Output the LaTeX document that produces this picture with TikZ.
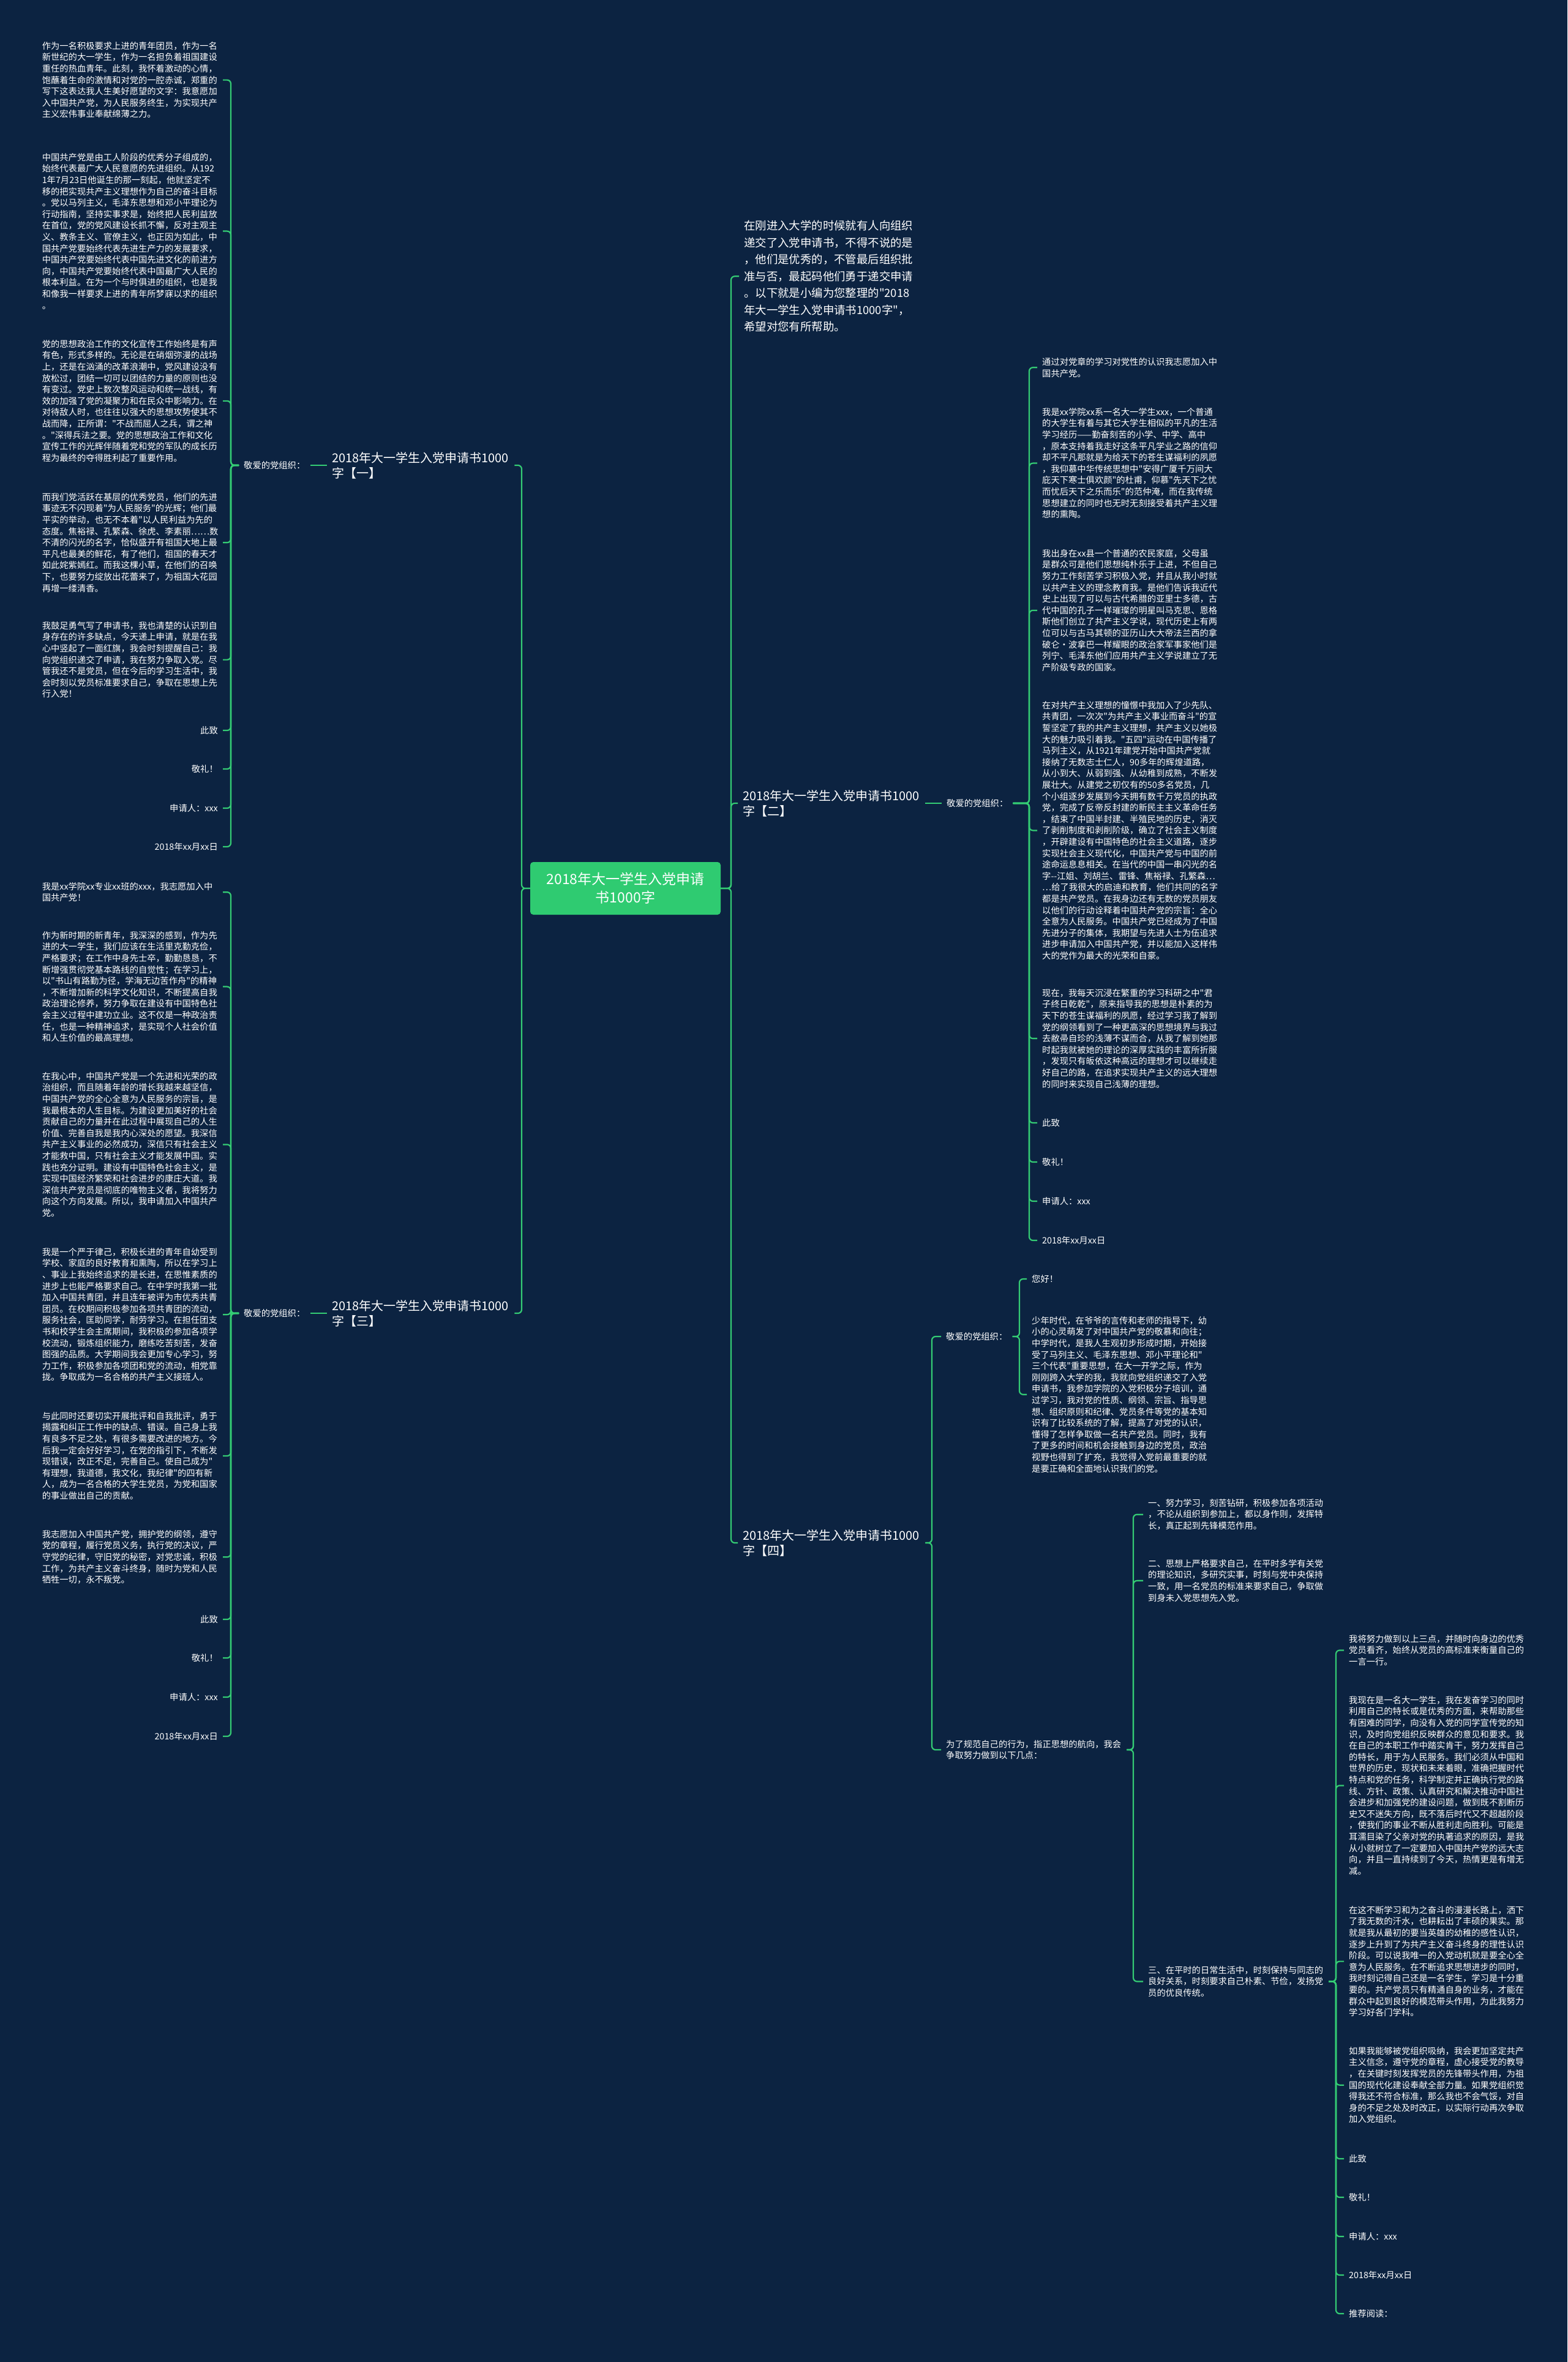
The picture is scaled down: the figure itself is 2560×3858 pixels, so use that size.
\documentclass[tikz,border=0pt]{standalone}
\usepackage{fontspec}
\newfontfamily\cjk{Noto Sans CJK SC}
\definecolor{bgc}{HTML}{0C2341}
\definecolor{lineg}{HTML}{34CC74}
\definecolor{cfill}{HTML}{2FCB71}
\tikzset{
  nbase/.style={text=white, inner xsep=8pt, inner ysep=2pt},
  leaf/.style={nbase, font=\cjk\fontsize{14.3}{18.6}\selectfont, align=left, text width=287pt},
  leafL/.style={leaf, anchor=north east},
  leafR/.style={leaf, anchor=north west},
  shortL/.style={nbase, font=\cjk\fontsize{14.3}{18.6}\selectfont, anchor=east},
  shortR/.style={nbase, font=\cjk\fontsize{14.3}{18.6}\selectfont, anchor=west},
  brlabel/.style={nbase, font=\cjk\fontsize{20}{25}\selectfont, align=left, text width=290pt, anchor=west},
  conn/.style={draw=lineg, line width=2.2pt, rounded corners=6pt},
}
\begin{document}
\begin{tikzpicture}[x=1pt,y=-1pt]
\fill[bgc] (0,0) rectangle (2560,3858);
\useasboundingbox (0,0) rectangle (2560,3858);

% buses
\coordinate (busCL) at (852,0);
\coordinate (busCR) at (1194,0);
\coordinate (bus1) at (377,0);
\coordinate (bus2) at (1681,0);
\coordinate (bus4) at (1522,0);
\coordinate (bus4b) at (1665,0);
\coordinate (busW) at (1851,0);
\coordinate (busT) at (2182,0);

% center
\node[fill=cfill, rounded corners=5pt, text=white, font=\cjk\fontsize{23}{30}\selectfont, align=center, minimum width=311pt, minimum height=86pt, inner sep=4pt] (c) at (1021.5,1451) {2018年大一学生入党申请\\书1000字};

% intro
\node[nbase, font=\cjk\fontsize{18.4}{27.5}\selectfont, align=left, text width=280pt, anchor=north west] (intro) at (1207,358) {在刚进入大学的时候就有人向组织\\递交了入党申请书，不得不说的是\\，他们是优秀的，不管最后组织批\\准与否，最起码他们勇于递交申请\\。以下就是小编为您整理的"2018\\年大一学生入党申请书1000字"，\\希望对您有所帮助。};

% branch labels
\node[brlabel] (l1) at (534,760) {2018年大一学生入党申请书1000\\字【一】};
\node[brlabel] (l3) at (534,2145) {2018年大一学生入党申请书1000\\字【三】};
\node[brlabel] (l2) at (1205,1312) {2018年大一学生入党申请书1000\\字【二】};
\node[brlabel] (l4) at (1205,2520) {2018年大一学生入党申请书1000\\字【四】};

% dear party nodes
\node[shortR] (e1) at (390,760) {敬爱的党组织：};
\node[shortR] (e3) at (390,2145) {敬爱的党组织：};
\node[shortR] (e2) at (1538,1312) {敬爱的党组织：};
\node[shortR] (e4) at (1537,2183) {敬爱的党组织：};

% ---------- branch 1 leaves ----------
\node[leafL] (p1) at (364,66) {作为一名积极要求上进的青年团员，作为一名\\新世纪的大一学生，作为一名担负着祖国建设\\重任的热血青年。此刻，我怀着激动的心情，\\饱蘸着生命的激情和对党的一腔赤诚，郑重的\\写下这表达我人生美好愿望的文字：我意愿加\\入中国共产党，为人民服务终生，为实现共产\\主义宏伟事业奉献绵薄之力。};
\node[leafL] (p2) at (364,248) {中国共产党是由工人阶段的优秀分子组成的，\\始终代表最广大人民意愿的先进组织。从192\\1年7月23日他诞生的那一刻起，他就坚定不\\移的把实现共产主义理想作为自己的奋斗目标\\。党以马列主义，毛泽东思想和邓小平理论为\\行动指南，坚持实事求是，始终把人民利益放\\在首位，党的党风建设长抓不懈，反对主观主\\义、教条主义、官僚主义，也正因为如此，中\\国共产党要始终代表先进生产力的发展要求，\\中国共产党要始终代表中国先进文化的前进方\\向，中国共产党要始终代表中国最广大人民的\\根本利益。在为一个与时俱进的组织，也是我\\和像我一样要求上进的青年所梦寐以求的组织\\。};
\node[leafL] (p3) at (364,553) {党的思想政治工作的文化宣传工作始终是有声\\有色，形式多样的。无论是在硝烟弥漫的战场\\上，还是在汹涌的改革浪潮中，党风建设没有\\放松过，团结一切可以团结的力量的原则也没\\有变过。党史上数次整风运动和统一战线，有\\效的加强了党的凝聚力和在民众中影响力。在\\对待敌人时，也往往以强大的思想攻势使其不\\战而降，正所谓："不战而屈人之兵，谓之神\\。"深得兵法之要。党的思想政治工作和文化\\宣传工作的光辉伴随着党和党的军队的成长历\\程为最终的夺得胜利起了重要作用。};
\node[leafL] (p4) at (364,803) {而我们党活跃在基层的优秀党员，他们的先进\\事迹无不闪现着"为人民服务"的光辉；他们最\\平实的举动，也无不本着"以人民利益为先的\\态度。焦裕禄、孔繁森、徐虎、李素丽……数\\不清的闪光的名字，恰似盛开有祖国大地上最\\平凡也最美的鲜花，有了他们，祖国的春天才\\如此姹紫嫣红。而我这棵小草，在他们的召唤\\下，也要努力绽放出花蕾来了，为祖国大花园\\再增一缕清香。};
\node[leafL] (p5) at (364,1013) {我鼓足勇气写了申请书，我也清楚的认识到自\\身存在的许多缺点，今天递上申请，就是在我\\心中竖起了一面红旗，我会时刻提醒自己：我\\向党组织递交了申请，我在努力争取入党。尽\\管我还不是党员，但在今后的学习生活中，我\\会时刻以党员标准要求自己，争取在思想上先\\行入党！};
\node[shortL] (p6) at (364,1193) {此致};
\node[shortL] (p7) at (364,1256) {敬礼！};
\node[shortL] (p8) at (364,1320) {申请人：xxx};
\node[shortL] (p9) at (364,1383) {2018年xx月xx日};

% ---------- branch 3 leaves ----------
\node[leafL] (q1) at (364,1439) {我是xx学院xx专业xx班的xxx，我志愿加入中\\国共产党！};
\node[leafL] (q2) at (364,1519) {作为新时期的新青年，我深深的感到，作为先\\进的大一学生，我们应该在生活里克勤克俭，\\严格要求；在工作中身先士卒，勤勤恳恳，不\\断增强贯彻党基本路线的自觉性；在学习上，\\以"书山有路勤为径，学海无边苦作舟"的精神\\，不断增加新的科学文化知识，不断提高自我\\政治理论修养，努力争取在建设有中国特色社\\会主义过程中建功立业。这不仅是一种政治责\\任，也是一种精神追求，是实现个人社会价值\\和人生价值的最高理想。};
\node[leafL] (q3) at (364,1749) {在我心中，中国共产党是一个先进和光荣的政\\治组织，而且随着年龄的增长我越来越坚信，\\中国共产党的全心全意为人民服务的宗旨，是\\我最根本的人生目标。为建设更加美好的社会\\贡献自己的力量并在此过程中展现自己的人生\\价值、完善自我是我内心深处的愿望。我深信\\共产主义事业的必然成功，深信只有社会主义\\才能救中国，只有社会主义才能发展中国。实\\践也充分证明。建设有中国特色社会主义，是\\实现中国经济繁荣和社会进步的康庄大道。我\\深信共产党员是彻底的唯物主义者，我将努力\\向这个方向发展。所以，我申请加入中国共产\\党。};
\node[leafL] (q4) at (364,2036) {我是一个严于律己，积极长进的青年自幼受到\\学校、家庭的良好教育和熏陶，所以在学习上\\、事业上我始终追求的是长进，在思惟素质的\\进步上也能严格要求自己。在中学时我第一批\\加入中国共青团，并且连年被评为市优秀共青\\团员。在校期间积极参加各项共青团的流动，\\服务社会，匡助同学，耐劳学习。在担任团支\\书和校学生会主席期间，我积极的参加各项学\\校流动，锻炼组织能力，磨练吃苦刻苦，发奋\\图强的品质。大学期间我会更加专心学习，努\\力工作，积极参加各项团和党的流动，相党靠\\拢。争取成为一名合格的共产主义接班人。};
\node[leafL] (q5) at (364,2304) {与此同时还要切实开展批评和自我批评，勇于\\揭露和纠正工作中的缺点、错误。自己身上我\\有良多不足之处，有很多需要改进的地方。今\\后我一定会好好学习，在党的指引下，不断发\\现错误，改正不足，完善自己。使自己成为"\\有理想，我道德，我文化，我纪律"的四有新\\人，成为一名合格的大学生党员，为党和国家\\的事业做出自己的贡献。};
\node[leafL] (q6) at (364,2497) {我志愿加入中国共产党，拥护党的纲领，遵守\\党的章程，履行党员义务，执行党的决议，严\\守党的纪律，守旧党的秘密，对党忠诚，积极\\工作，为共产主义奋斗终身，随时为党和人民\\牺牲一切，永不叛党。};
\node[shortL] (q7) at (364,2645) {此致};
\node[shortL] (q8) at (364,2708) {敬礼！};
\node[shortL] (q9) at (364,2772) {申请人：xxx};
\node[shortL] (q10) at (364,2836) {2018年xx月xx日};

% ---------- branch 2 leaves ----------
\node[leafR] (r1) at (1694,582) {通过对党章的学习对党性的认识我志愿加入中\\国共产党。};
\node[leafR] (r2) at (1694,664) {我是xx学院xx系一名大一学生xxx，一个普通\\的大学生有着与其它大学生相似的平凡的生活\\学习经历——勤奋刻苦的小学、中学、高中\\，原本支持着我走好这条平凡学业之路的信仰\\却不平凡那就是为给天下的苍生谋福利的夙愿\\，我仰慕中华传统思想中"安得广厦千万间大\\庇天下寒士俱欢颜"的杜甫，仰慕"先天下之忧\\而忧后天下之乐而乐"的范仲淹，而在我传统\\思想建立的同时也无时无刻接受着共产主义理\\想的熏陶。};
\node[leafR] (r3) at (1694,895) {我出身在xx县一个普通的农民家庭，父母虽\\是群众可是他们思想纯朴乐于上进，不但自己\\努力工作刻苦学习积极入党，并且从我小时就\\以共产主义的理念教育我。是他们告诉我近代\\史上出现了可以与古代希腊的亚里士多德，古\\代中国的孔子一样璀璨的明星叫马克思、恩格\\斯他们创立了共产主义学说，现代历史上有两\\位可以与古马其顿的亚历山大大帝法兰西的拿\\破仑·波拿巴一样耀眼的政治家军事家他们是\\列宁、毛泽东他们应用共产主义学说建立了无\\产阶级专政的国家。};
\node[leafR] (r4) at (1694,1143) {在对共产主义理想的憧憬中我加入了少先队、\\共青团，一次次"为共产主义事业而奋斗"的宣\\誓坚定了我的共产主义理想，共产主义以她极\\大的魅力吸引着我。"五四"运动在中国传播了\\马列主义，从1921年建党开始中国共产党就\\接纳了无数志士仁人，90多年的辉煌道路，\\从小到大、从弱到强、从幼稚到成熟，不断发\\展壮大。从建党之初仅有的50多名党员，几\\个小组逐步发展到今天拥有数千万党员的执政\\党，完成了反帝反封建的新民主主义革命任务\\，结束了中国半封建、半殖民地的历史，消灭\\了剥削制度和剥削阶级，确立了社会主义制度\\，开辟建设有中国特色的社会主义道路，逐步\\实现社会主义现代化，中国共产党与中国的前\\途命运息息相关。在当代的中国一串闪光的名\\字-{}-江姐、刘胡兰、雷锋、焦裕禄、孔繁森…\\…给了我很大的启迪和教育，他们共同的名字\\都是共产党员。在我身边还有无数的党员朋友\\以他们的行动诠释着中国共产党的宗旨：全心\\全意为人民服务。中国共产党已经成为了中国\\先进分子的集体，我期望与先进人士为伍追求\\进步申请加入中国共产党，并以能加入这样伟\\大的党作为最大的光荣和自豪。};
\node[leafR] (r5) at (1694,1613) {现在，我每天沉浸在繁重的学习科研之中"君\\子终日乾乾"，原来指导我的思想是朴素的为\\天下的苍生谋福利的夙愿，经过学习我了解到\\党的纲领看到了一种更高深的思想境界与我过\\去敝帚自珍的浅薄不谋而合，从我了解到她那\\时起我就被她的理论的深厚实践的丰富所折服\\，发现只有皈依这种高远的理想才可以继续走\\好自己的路，在追求实现共产主义的远大理想\\的同时来实现自己浅薄的理想。};
\node[shortR] (r6) at (1694,1834) {此致};
\node[shortR] (r7) at (1694,1898) {敬礼！};
\node[shortR] (r8) at (1694,1962) {申请人：xxx};
\node[shortR] (r9) at (1694,2026) {2018年xx月xx日};

% ---------- branch 4 ----------
\node[shortR] (hi) at (1677,2089) {您好！};
\node[leafR] (s2) at (1677,2148) {少年时代，在爷爷的言传和老师的指导下，幼\\小的心灵萌发了对中国共产党的敬慕和向往；\\中学时代，是我人生观初步形成时期，开始接\\受了马列主义、毛泽东思想、邓小平理论和"\\三个代表"重要思想，在大一开学之际，作为\\刚刚跨入大学的我，我就向党组织递交了入党\\申请书，我参加学院的入党积极分子培训，通\\过学习，我对党的性质、纲领、宗旨、指导思\\想、组织原则和纪律、党员条件等党的基本知\\识有了比较系统的了解，提高了对党的认识，\\懂得了怎样争取做一名共产党员。同时，我有\\了更多的时间和机会接触到身边的党员，政治\\视野也得到了扩充，我觉得入党前最重要的就\\是要正确和全面地认识我们的党。};
\node[leaf, anchor=west] (w) at (1537,2858) {为了规范自己的行为，指正思想的航向，我会\\争取努力做到以下几点：};
\node[leafR] (i1) at (1867,2446) {一、努力学习，刻苦钻研，积极参加各项活动\\，不论从组织到参加上，都以身作则，发挥特\\长，真正起到先锋模范作用。};
\node[leafR] (i2) at (1867,2545) {二、思想上严格要求自己，在平时多学有关党\\的理论知识，多研究实事，时刻与党中央保持\\一致，用一名党员的标准来要求自己，争取做\\到身未入党思想先入党。};
\node[leafR] (i3) at (1867,3209) {三、在平时的日常生活中，时刻保持与同志的\\良好关系，时刻要求自己朴素、节俭，发扬党\\员的优良传统。};
\node[leafR] (t1) at (2195,2668) {我将努力做到以上三点，并随时向身边的优秀\\党员看齐，始终从党员的高标准来衡量自己的\\一言一行。};
\node[leafR] (t2) at (2195,2768) {我现在是一名大一学生，我在发奋学习的同时\\利用自己的特长或是优秀的方面，来帮助那些\\有困难的同学，向没有入党的同学宣传党的知\\识，及时向党组织反映群众的意见和要求。我\\在自己的本职工作中踏实肯干，努力发挥自己\\的特长，用于为人民服务。我们必须从中国和\\世界的历史，现状和未来着眼，准确把握时代\\特点和党的任务，科学制定并正确执行党的路\\线、方针、政策、认真研究和解决推动中国社\\会进步和加强党的建设问题，做到既不割断历\\史又不迷失方向，既不落后时代又不超越阶段\\，使我们的事业不断从胜利走向胜利。可能是\\耳濡目染了父亲对党的执著追求的原因，是我\\从小就树立了一定要加入中国共产党的远大志\\向，并且一直持续到了今天，热情更是有增无\\减。};
\node[leafR] (t3) at (2195,3111) {在这不断学习和为之奋斗的漫漫长路上，洒下\\了我无数的汗水，也耕耘出了丰硕的果实。那\\就是我从最初的要当英雄的幼稚的感性认识，\\逐步上升到了为共产主义奋斗终身的理性认识\\阶段。可以说我唯一的入党动机就是要全心全\\意为人民服务。在不断追求思想进步的同时，\\我时刻记得自己还是一名学生，学习是十分重\\要的。共产党员只有精通自身的业务，才能在\\群众中起到良好的模范带头作用，为此我努力\\学习好各门学科。};
\node[leafR] (t4) at (2195,3341) {如果我能够被党组织吸纳，我会更加坚定共产\\主义信念，遵守党的章程，虚心接受党的教导\\，在关键时刻发挥党员的先锋带头作用，为祖\\国的现代化建设奉献全部力量。如果党组织觉\\得我还不符合标准，那么我也不会气馁，对自\\身的不足之处及时改正，以实际行动再次争取\\加入党组织。};
\node[shortR] (t5) at (2195,3526) {此致};
\node[shortR] (t6) at (2195,3589) {敬礼！};
\node[shortR] (t7) at (2195,3653) {申请人：xxx};
\node[shortR] (t8) at (2195,3716) {2018年xx月xx日};
\node[shortR] (t9) at (2195,3779) {推荐阅读：};

% ---------- connectors ----------
\foreach \n in {l1,l3} \draw[conn] (c.west) -- (c.west -| busCL) |- (\n.east);
\foreach \n in {intro,l2,l4} \draw[conn] (c.east) -- (c.east -| busCR) |- (\n.west);
\draw[conn] (l1.west) -- (e1.east);
\draw[conn] (l3.west) -- (e3.east);
\draw[conn] (l2.east) -- (e2.west);
\foreach \n in {p1,p2,p3,p4,p5,p6,p7,p8,p9} \draw[conn] (e1.west) -- (e1.west -| bus1) |- (\n.east);
\foreach \n in {q1,q2,q3,q4,q5,q6,q7,q8,q9,q10} \draw[conn] (e3.west) -- (e3.west -| bus1) |- (\n.east);
\foreach \n in {r1,r2,r3,r4,r5,r6,r7,r8,r9} \draw[conn] (e2.east) -- (e2.east -| bus2) |- (\n.west);
\foreach \n in {e4,w} \draw[conn] (l4.east) -- (l4.east -| bus4) |- (\n.west);
\foreach \n in {hi,s2} \draw[conn] (e4.east) -- (e4.east -| bus4b) |- (\n.west);
\foreach \n in {i1,i2,i3} \draw[conn] (w.east) -- (w.east -| busW) |- (\n.west);
\foreach \n in {t1,t2,t3,t4,t5,t6,t7,t8,t9} \draw[conn] (i3.east) -- (i3.east -| busT) |- (\n.west);
\end{tikzpicture}
\end{document}
